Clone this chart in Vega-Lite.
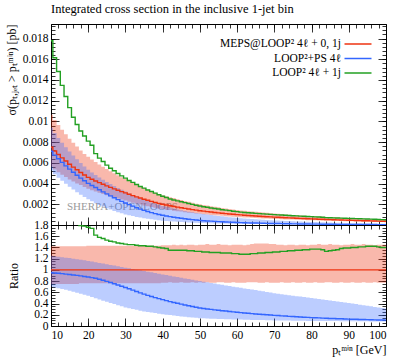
{
"$schema": "https://vega.github.io/schema/vega-lite/v6.json",
"padding": {"left": 4, "top": 2, "right": 4, "bottom": 2},
"bounds": "flush",
"config": {
  "font": "Liberation Serif",
  "view": {"stroke": "#000", "strokeWidth": 1},
  "axis": {"grid": false, "domain": false, "labelOverlap": false, "labelFont": "Liberation Serif", "labelFontSize": 11.5, "labelColor": "#000", "tickColor": "#000", "tickWidth": 0.8, "titleFont": "Liberation Serif", "titleFontSize": 12, "titleFontWeight": "normal", "titleColor": "#000"}
},
"title": {"text": "Integrated cross section in the inclusive 1-jet bin", "anchor": "start", "frame": "group", "fontSize": 12.5, "fontWeight": "normal", "font": "Liberation Serif", "color": "#000", "offset": 8},
"datasets": {"d": [
{"x":10,"r":0.0075,"rl":0.005625,"rh":0.01065,"b":0.007125,"bl":0.00525,"bh":0.009375,"g":0.01778,"qrl":0.75,"qrh":1.42,"qb":0.95,"qbl":0.7,"qbh":1.25,"qg":2.37},
{"x":11,"r":0.00714,"rl":0.005355,"rh":0.01014,"b":0.006747,"bl":0.004898,"bh":0.008868,"g":0.01614,"qrl":0.75,"qrh":1.42,"qb":0.945,"qbl":0.686,"qbh":1.242,"qg":2.26},
{"x":12,"r":0.0068,"rl":0.0051,"rh":0.009656,"b":0.006392,"bl":0.00457,"bh":0.008391,"g":0.01482,"qrl":0.75,"qrh":1.42,"qb":0.94,"qbl":0.672,"qbh":1.234,"qg":2.18},
{"x":13,"r":0.00648,"rl":0.00486,"rh":0.009202,"b":0.006046,"bl":0.004264,"bh":0.007944,"g":0.01348,"qrl":0.75,"qrh":1.42,"qb":0.933,"qbl":0.658,"qbh":1.226,"qg":2.08},
{"x":14,"r":0.00617,"rl":0.004628,"rh":0.008761,"b":0.005707,"bl":0.003973,"bh":0.007515,"g":0.0124,"qrl":0.75,"qrh":1.42,"qb":0.925,"qbl":0.644,"qbh":1.218,"qg":2.01},
{"x":15,"r":0.00587,"rl":0.004403,"rh":0.008335,"b":0.005389,"bl":0.003698,"bh":0.007103,"g":0.01133,"qrl":0.75,"qrh":1.42,"qb":0.918,"qbl":0.63,"qbh":1.21,"qg":1.93},
{"x":16,"r":0.00559,"rl":0.004193,"rh":0.007938,"b":0.005087,"bl":0.003421,"bh":0.006708,"g":0.0104,"qrl":0.75,"qrh":1.42,"qb":0.91,"qbl":0.612,"qbh":1.2,"qg":1.86},
{"x":17,"r":0.00533,"rl":0.003998,"rh":0.007569,"b":0.004808,"bl":0.003166,"bh":0.006343,"g":0.009701,"qrl":0.75,"qrh":1.42,"qb":0.902,"qbl":0.594,"qbh":1.19,"qg":1.82},
{"x":18,"r":0.00507,"rl":0.003853,"rh":0.007199,"b":0.004528,"bl":0.00292,"bh":0.005983,"g":0.009075,"qrl":0.76,"qrh":1.42,"qb":0.893,"qbl":0.576,"qbh":1.18,"qg":1.79},
{"x":19,"r":0.00483,"rl":0.003671,"rh":0.006859,"b":0.004265,"bl":0.002695,"bh":0.005651,"g":0.008597,"qrl":0.76,"qrh":1.42,"qb":0.883,"qbl":0.558,"qbh":1.17,"qg":1.78},
{"x":20,"r":0.0046,"rl":0.003496,"rh":0.006578,"b":0.004016,"bl":0.002484,"bh":0.005336,"g":0.008096,"qrl":0.76,"qrh":1.43,"qb":0.873,"qbl":0.54,"qbh":1.16,"qg":1.76},
{"x":21,"r":0.004422,"rl":0.003361,"rh":0.006323,"b":0.003812,"bl":0.002291,"bh":0.005076,"g":0.007694,"qrl":0.76,"qrh":1.43,"qb":0.862,"qbl":0.518,"qbh":1.148,"qg":1.74},
{"x":22,"r":0.004251,"rl":0.003231,"rh":0.006079,"b":0.003613,"bl":0.002108,"bh":0.004829,"g":0.006887,"qrl":0.76,"qrh":1.43,"qb":0.85,"qbl":0.496,"qbh":1.136,"qg":1.62},
{"x":23,"r":0.004086,"rl":0.003105,"rh":0.005843,"b":0.003404,"bl":0.001937,"bh":0.004593,"g":0.006456,"qrl":0.76,"qrh":1.43,"qb":0.833,"qbl":0.474,"qbh":1.124,"qg":1.58},
{"x":24,"r":0.003928,"rl":0.002985,"rh":0.005617,"b":0.003201,"bl":0.001775,"bh":0.004368,"g":0.006128,"qrl":0.76,"qrh":1.43,"qb":0.815,"qbl":0.452,"qbh":1.112,"qg":1.56},
{"x":25,"r":0.003776,"rl":0.00287,"rh":0.0054,"b":0.003002,"bl":0.001624,"bh":0.004154,"g":0.005777,"qrl":0.76,"qrh":1.43,"qb":0.795,"qbl":0.43,"qbh":1.1,"qg":1.53},
{"x":26,"r":0.00363,"rl":0.002759,"rh":0.005191,"b":0.002813,"bl":0.001488,"bh":0.003949,"g":0.005481,"qrl":0.76,"qrh":1.43,"qb":0.775,"qbl":0.41,"qbh":1.088,"qg":1.51},
{"x":27,"r":0.003489,"rl":0.002652,"rh":0.004989,"b":0.002627,"bl":0.001361,"bh":0.003754,"g":0.005234,"qrl":0.76,"qrh":1.43,"qb":0.753,"qbl":0.39,"qbh":1.076,"qg":1.5},
{"x":28,"r":0.003354,"rl":0.002549,"rh":0.004796,"b":0.002448,"bl":0.001241,"bh":0.003569,"g":0.004964,"qrl":0.76,"qrh":1.43,"qb":0.73,"qbl":0.37,"qbh":1.064,"qg":1.48},
{"x":29,"r":0.003225,"rl":0.002451,"rh":0.004612,"b":0.002283,"bl":0.001129,"bh":0.003393,"g":0.004741,"qrl":0.76,"qrh":1.43,"qb":0.708,"qbl":0.35,"qbh":1.052,"qg":1.47},
{"x":30,"r":0.0031,"rl":0.002356,"rh":0.004433,"b":0.002124,"bl":0.001023,"bh":0.003224,"g":0.004526,"qrl":0.76,"qrh":1.43,"qb":0.685,"qbl":0.33,"qbh":1.04,"qg":1.46},
{"x":31,"r":0.002967,"rl":0.002255,"rh":0.004243,"b":0.001967,"bl":0.000938,"bh":0.00305,"g":0.004302,"qrl":0.76,"qrh":1.43,"qb":0.663,"qbl":0.316,"qbh":1.028,"qg":1.45},
{"x":32,"r":0.00284,"rl":0.002158,"rh":0.004061,"b":0.001818,"bl":0.000858,"bh":0.002885,"g":0.004118,"qrl":0.76,"qrh":1.43,"qb":0.64,"qbl":0.302,"qbh":1.016,"qg":1.45},
{"x":33,"r":0.002718,"rl":0.002066,"rh":0.003887,"b":0.001672,"bl":0.000783,"bh":0.002729,"g":0.003914,"qrl":0.76,"qrh":1.43,"qb":0.615,"qbl":0.288,"qbh":1.004,"qg":1.44},
{"x":34,"r":0.002601,"rl":0.001977,"rh":0.003719,"b":0.001535,"bl":0.000713,"bh":0.00258,"g":0.003719,"qrl":0.76,"qrh":1.43,"qb":0.59,"qbl":0.274,"qbh":0.992,"qg":1.43},
{"x":35,"r":0.00249,"rl":0.001892,"rh":0.003561,"b":0.001414,"bl":0.000647,"bh":0.00244,"g":0.003561,"qrl":0.76,"qrh":1.43,"qb":0.568,"qbl":0.26,"qbh":0.98,"qg":1.43},
{"x":36,"r":0.002383,"rl":0.001811,"rh":0.003408,"b":0.001299,"bl":0.000596,"bh":0.002307,"g":0.003384,"qrl":0.76,"qrh":1.43,"qb":0.545,"qbl":0.25,"qbh":0.968,"qg":1.42},
{"x":37,"r":0.002281,"rl":0.001734,"rh":0.003262,"b":0.001198,"bl":0.000547,"bh":0.002181,"g":0.003239,"qrl":0.76,"qrh":1.43,"qb":0.525,"qbl":0.24,"qbh":0.956,"qg":1.42},
{"x":38,"r":0.002183,"rl":0.001659,"rh":0.003122,"b":0.001102,"bl":0.000502,"bh":0.002061,"g":0.003078,"qrl":0.76,"qrh":1.43,"qb":0.505,"qbl":0.23,"qbh":0.944,"qg":1.41},
{"x":39,"r":0.002089,"rl":0.001588,"rh":0.002987,"b":0.001019,"bl":0.00046,"bh":0.001947,"g":0.002925,"qrl":0.76,"qrh":1.43,"qb":0.488,"qbl":0.22,"qbh":0.932,"qg":1.4},
{"x":40,"r":0.002,"rl":0.00154,"rh":0.00288,"b":0.00094,"bl":0.00042,"bh":0.00184,"g":0.00278,"qrl":0.77,"qrh":1.44,"qb":0.47,"qbl":0.21,"qbh":0.92,"qg":1.39},
{"x":41,"r":0.001927,"rl":0.001484,"rh":0.002775,"b":0.000871,"bl":0.000389,"bh":0.00175,"g":0.002659,"qrl":0.77,"qrh":1.44,"qb":0.452,"qbl":0.202,"qbh":0.908,"qg":1.38},
{"x":42,"r":0.001857,"rl":0.001448,"rh":0.002674,"b":0.000808,"bl":0.00036,"bh":0.001664,"g":0.002507,"qrl":0.78,"qrh":1.44,"qb":0.435,"qbl":0.194,"qbh":0.896,"qg":1.35},
{"x":43,"r":0.001789,"rl":0.001378,"rh":0.002594,"b":0.000751,"bl":0.000333,"bh":0.001581,"g":0.002415,"qrl":0.77,"qrh":1.45,"qb":0.42,"qbl":0.186,"qbh":0.884,"qg":1.35},
{"x":44,"r":0.001724,"rl":0.001327,"rh":0.002483,"b":0.000698,"bl":0.000307,"bh":0.001503,"g":0.002327,"qrl":0.77,"qrh":1.44,"qb":0.405,"qbl":0.178,"qbh":0.872,"qg":1.35},
{"x":45,"r":0.001661,"rl":0.001296,"rh":0.002408,"b":0.000648,"bl":0.000282,"bh":0.001428,"g":0.002242,"qrl":0.78,"qrh":1.45,"qb":0.39,"qbl":0.17,"qbh":0.86,"qg":1.35},
{"x":46,"r":0.001601,"rl":0.001233,"rh":0.002305,"b":0.0006,"bl":0.000263,"bh":0.001358,"g":0.002161,"qrl":0.77,"qrh":1.44,"qb":0.375,"qbl":0.164,"qbh":0.848,"qg":1.35},
{"x":47,"r":0.001543,"rl":0.001188,"rh":0.002237,"b":0.000557,"bl":0.000244,"bh":0.00129,"g":0.002068,"qrl":0.77,"qrh":1.45,"qb":0.361,"qbl":0.158,"qbh":0.836,"qg":1.34},
{"x":48,"r":0.001486,"rl":0.001159,"rh":0.002155,"b":0.000516,"bl":0.000226,"bh":0.001224,"g":0.001991,"qrl":0.78,"qrh":1.45,"qb":0.347,"qbl":0.152,"qbh":0.824,"qg":1.34},
{"x":49,"r":0.001432,"rl":0.001103,"rh":0.002062,"b":0.000477,"bl":0.000209,"bh":0.001163,"g":0.001905,"qrl":0.77,"qrh":1.44,"qb":0.333,"qbl":0.146,"qbh":0.812,"qg":1.33},
{"x":50,"r":0.00138,"rl":0.001076,"rh":0.002001,"b":0.000442,"bl":0.000193,"bh":0.001104,"g":0.001835,"qrl":0.78,"qrh":1.45,"qb":0.32,"qbl":0.14,"qbh":0.8,"qg":1.33},
{"x":51,"r":0.001336,"rl":0.001029,"rh":0.001937,"b":0.000417,"bl":0.000183,"bh":0.001054,"g":0.001764,"qrl":0.77,"qrh":1.45,"qb":0.312,"qbl":0.137,"qbh":0.789,"qg":1.32},
{"x":52,"r":0.001294,"rl":0.001009,"rh":0.001889,"b":0.000393,"bl":0.000173,"bh":0.001007,"g":0.001708,"qrl":0.78,"qrh":1.46,"qb":0.304,"qbl":0.134,"qbh":0.778,"qg":1.32},
{"x":53,"r":0.001253,"rl":0.000965,"rh":0.001817,"b":0.000371,"bl":0.000164,"bh":0.000961,"g":0.001641,"qrl":0.77,"qrh":1.45,"qb":0.296,"qbl":0.131,"qbh":0.767,"qg":1.31},
{"x":54,"r":0.001213,"rl":0.000934,"rh":0.001759,"b":0.000349,"bl":0.000155,"bh":0.000917,"g":0.001589,"qrl":0.77,"qrh":1.45,"qb":0.288,"qbl":0.128,"qbh":0.756,"qg":1.31},
{"x":55,"r":0.001175,"rl":0.000917,"rh":0.001716,"b":0.000329,"bl":0.000147,"bh":0.000875,"g":0.001539,"qrl":0.78,"qrh":1.46,"qb":0.28,"qbl":0.125,"qbh":0.745,"qg":1.31},
{"x":56,"r":0.001137,"rl":0.000887,"rh":0.001649,"b":0.00031,"bl":0.00014,"bh":0.000835,"g":0.001478,"qrl":0.78,"qrh":1.45,"qb":0.273,"qbl":0.123,"qbh":0.734,"qg":1.3},
{"x":57,"r":0.001101,"rl":0.000848,"rh":0.001596,"b":0.000293,"bl":0.000133,"bh":0.000796,"g":0.001431,"qrl":0.77,"qrh":1.45,"qb":0.266,"qbl":0.121,"qbh":0.723,"qg":1.3},
{"x":58,"r":0.001066,"rl":0.000821,"rh":0.001535,"b":0.000276,"bl":0.000127,"bh":0.000759,"g":0.001386,"qrl":0.77,"qrh":1.44,"qb":0.259,"qbl":0.119,"qbh":0.712,"qg":1.3},
{"x":59,"r":0.001033,"rl":0.000806,"rh":0.001498,"b":0.00026,"bl":0.000121,"bh":0.000724,"g":0.001333,"qrl":0.78,"qrh":1.45,"qb":0.252,"qbl":0.117,"qbh":0.701,"qg":1.29},
{"x":60,"r":0.001,"rl":0.00077,"rh":0.00145,"b":0.000245,"bl":0.000115,"bh":0.00069,"g":0.00129,"qrl":0.77,"qrh":1.45,"qb":0.245,"qbl":0.115,"qbh":0.69,"qg":1.29},
{"x":61,"r":0.000973,"rl":0.000749,"rh":0.001411,"b":0.000233,"bl":0.000111,"bh":0.000662,"g":0.001245,"qrl":0.77,"qrh":1.45,"qb":0.239,"qbl":0.114,"qbh":0.68,"qg":1.28},
{"x":62,"r":0.000947,"rl":0.000729,"rh":0.001364,"b":0.000221,"bl":0.000106,"bh":0.000634,"g":0.001212,"qrl":0.77,"qrh":1.44,"qb":0.233,"qbl":0.112,"qbh":0.67,"qg":1.28},
{"x":63,"r":0.000921,"rl":0.000718,"rh":0.001335,"b":0.000209,"bl":0.000102,"bh":0.000608,"g":0.001179,"qrl":0.78,"qrh":1.45,"qb":0.227,"qbl":0.111,"qbh":0.66,"qg":1.28},
{"x":64,"r":0.000896,"rl":0.000699,"rh":0.001308,"b":0.000198,"bl":0.000098,"bh":0.000582,"g":0.001156,"qrl":0.78,"qrh":1.46,"qb":0.221,"qbl":0.109,"qbh":0.65,"qg":1.29},
{"x":65,"r":0.000872,"rl":0.00068,"rh":0.001282,"b":0.000187,"bl":0.000094,"bh":0.000558,"g":0.001125,"qrl":0.78,"qrh":1.47,"qb":0.215,"qbl":0.108,"qbh":0.64,"qg":1.29},
{"x":66,"r":0.000848,"rl":0.000653,"rh":0.001247,"b":0.000178,"bl":0.00009,"bh":0.000533,"g":0.001102,"qrl":0.77,"qrh":1.47,"qb":0.21,"qbl":0.106,"qbh":0.629,"qg":1.3},
{"x":67,"r":0.000825,"rl":0.000635,"rh":0.001213,"b":0.000169,"bl":0.000087,"bh":0.00051,"g":0.001073,"qrl":0.77,"qrh":1.47,"qb":0.205,"qbl":0.105,"qbh":0.618,"qg":1.3},
{"x":68,"r":0.000803,"rl":0.000626,"rh":0.00118,"b":0.000161,"bl":0.000083,"bh":0.000487,"g":0.001052,"qrl":0.78,"qrh":1.47,"qb":0.2,"qbl":0.103,"qbh":0.607,"qg":1.31},
{"x":69,"r":0.000781,"rl":0.000601,"rh":0.00114,"b":0.000152,"bl":0.00008,"bh":0.000465,"g":0.001023,"qrl":0.77,"qrh":1.46,"qb":0.195,"qbl":0.102,"qbh":0.596,"qg":1.31},
{"x":70,"r":0.00076,"rl":0.000585,"rh":0.00111,"b":0.000144,"bl":0.000076,"bh":0.000445,"g":0.001003,"qrl":0.77,"qrh":1.46,"qb":0.19,"qbl":0.1,"qbh":0.585,"qg":1.32},
{"x":71,"r":0.000741,"rl":0.000571,"rh":0.001074,"b":0.000138,"bl":0.000073,"bh":0.000427,"g":0.000978,"qrl":0.77,"qrh":1.45,"qb":0.186,"qbl":0.099,"qbh":0.576,"qg":1.32},
{"x":72,"r":0.000722,"rl":0.000563,"rh":0.001047,"b":0.000131,"bl":0.000071,"bh":0.000409,"g":0.00096,"qrl":0.78,"qrh":1.45,"qb":0.181,"qbl":0.098,"qbh":0.567,"qg":1.33},
{"x":73,"r":0.000704,"rl":0.000542,"rh":0.001014,"b":0.000125,"bl":0.000068,"bh":0.000393,"g":0.000936,"qrl":0.77,"qrh":1.44,"qb":0.177,"qbl":0.097,"qbh":0.558,"qg":1.33},
{"x":74,"r":0.000687,"rl":0.000529,"rh":0.000996,"b":0.000118,"bl":0.000066,"bh":0.000377,"g":0.000921,"qrl":0.77,"qrh":1.45,"qb":0.172,"qbl":0.096,"qbh":0.549,"qg":1.34},
{"x":75,"r":0.00067,"rl":0.000523,"rh":0.000972,"b":0.000113,"bl":0.000064,"bh":0.000362,"g":0.000898,"qrl":0.78,"qrh":1.45,"qb":0.168,"qbl":0.095,"qbh":0.54,"qg":1.34},
{"x":76,"r":0.000653,"rl":0.000503,"rh":0.00094,"b":0.000107,"bl":0.000061,"bh":0.000347,"g":0.000882,"qrl":0.77,"qrh":1.44,"qb":0.164,"qbl":0.094,"qbh":0.532,"qg":1.35},
{"x":77,"r":0.000637,"rl":0.00049,"rh":0.000924,"b":0.000103,"bl":0.000059,"bh":0.000334,"g":0.00086,"qrl":0.77,"qrh":1.45,"qb":0.161,"qbl":0.093,"qbh":0.524,"qg":1.35},
{"x":78,"r":0.000621,"rl":0.000484,"rh":0.0009,"b":0.000097,"bl":0.000057,"bh":0.00032,"g":0.000845,"qrl":0.78,"qrh":1.45,"qb":0.157,"qbl":0.092,"qbh":0.516,"qg":1.36},
{"x":79,"r":0.000605,"rl":0.000466,"rh":0.000871,"b":0.000093,"bl":0.000055,"bh":0.000307,"g":0.000823,"qrl":0.77,"qrh":1.44,"qb":0.154,"qbl":0.091,"qbh":0.508,"qg":1.36},
{"x":80,"r":0.00059,"rl":0.000454,"rh":0.000856,"b":0.0000885,"bl":0.0000531,"bh":0.000295,"g":0.000808,"qrl":0.77,"qrh":1.45,"qb":0.15,"qbl":0.09,"qbh":0.5,"qg":1.37},
{"x":81,"r":0.000575,"rl":0.000449,"rh":0.000834,"b":0.0000845,"bl":0.0000518,"bh":0.000282,"g":0.000788,"qrl":0.78,"qrh":1.45,"qb":0.147,"qbl":0.09,"qbh":0.491,"qg":1.37},
{"x":82,"r":0.000561,"rl":0.000432,"rh":0.000819,"b":0.0000808,"bl":0.0000499,"bh":0.00027,"g":0.000769,"qrl":0.77,"qrh":1.46,"qb":0.144,"qbl":0.089,"qbh":0.482,"qg":1.37},
{"x":83,"r":0.000548,"rl":0.000422,"rh":0.000795,"b":0.0000773,"bl":0.0000488,"bh":0.000259,"g":0.000745,"qrl":0.77,"qrh":1.45,"qb":0.141,"qbl":0.089,"qbh":0.473,"qg":1.36},
{"x":84,"r":0.000534,"rl":0.000417,"rh":0.000774,"b":0.0000737,"bl":0.000047,"bh":0.000248,"g":0.00071,"qrl":0.78,"qrh":1.45,"qb":0.138,"qbl":0.088,"qbh":0.464,"qg":1.33},
{"x":85,"r":0.000521,"rl":0.000406,"rh":0.000761,"b":0.0000703,"bl":0.0000458,"bh":0.000237,"g":0.000698,"qrl":0.78,"qrh":1.46,"qb":0.135,"qbl":0.088,"qbh":0.455,"qg":1.34},
{"x":86,"r":0.000508,"rl":0.000391,"rh":0.000737,"b":0.0000676,"bl":0.0000442,"bh":0.000227,"g":0.000686,"qrl":0.77,"qrh":1.45,"qb":0.133,"qbl":0.087,"qbh":0.446,"qg":1.35},
{"x":87,"r":0.000496,"rl":0.000382,"rh":0.000719,"b":0.0000645,"bl":0.0000432,"bh":0.000217,"g":0.000675,"qrl":0.77,"qrh":1.45,"qb":0.13,"qbl":0.087,"qbh":0.437,"qg":1.36},
{"x":88,"r":0.000483,"rl":0.000377,"rh":0.000696,"b":0.0000618,"bl":0.0000415,"bh":0.000207,"g":0.000667,"qrl":0.78,"qrh":1.44,"qb":0.128,"qbl":0.086,"qbh":0.428,"qg":1.38},
{"x":89,"r":0.000472,"rl":0.000363,"rh":0.000684,"b":0.000059,"bl":0.0000406,"bh":0.000198,"g":0.000656,"qrl":0.77,"qrh":1.45,"qb":0.125,"qbl":0.086,"qbh":0.419,"qg":1.39},
{"x":90,"r":0.00046,"rl":0.000354,"rh":0.000667,"b":0.0000566,"bl":0.0000391,"bh":0.000189,"g":0.000639,"qrl":0.77,"qrh":1.45,"qb":0.123,"qbl":0.085,"qbh":0.41,"qg":1.39},
{"x":91,"r":0.000449,"rl":0.00035,"rh":0.000656,"b":0.0000543,"bl":0.0000382,"bh":0.00018,"g":0.000629,"qrl":0.78,"qrh":1.46,"qb":0.121,"qbl":0.085,"qbh":0.4,"qg":1.4},
{"x":92,"r":0.000438,"rl":0.000337,"rh":0.000635,"b":0.0000521,"bl":0.0000368,"bh":0.000171,"g":0.000613,"qrl":0.77,"qrh":1.45,"qb":0.119,"qbl":0.084,"qbh":0.39,"qg":1.4},
{"x":93,"r":0.000427,"rl":0.000329,"rh":0.000619,"b":0.00005,"bl":0.0000359,"bh":0.000162,"g":0.000602,"qrl":0.77,"qrh":1.45,"qb":0.117,"qbl":0.084,"qbh":0.38,"qg":1.41},
{"x":94,"r":0.000417,"rl":0.000325,"rh":0.000609,"b":0.000048,"bl":0.0000346,"bh":0.000154,"g":0.000588,"qrl":0.78,"qrh":1.46,"qb":0.115,"qbl":0.083,"qbh":0.37,"qg":1.41},
{"x":95,"r":0.000407,"rl":0.000313,"rh":0.00059,"b":0.000046,"bl":0.0000338,"bh":0.000147,"g":0.000578,"qrl":0.77,"qrh":1.45,"qb":0.113,"qbl":0.083,"qbh":0.36,"qg":1.42},
{"x":96,"r":0.000397,"rl":0.000306,"rh":0.000576,"b":0.0000441,"bl":0.0000326,"bh":0.000139,"g":0.000564,"qrl":0.77,"qrh":1.45,"qb":0.111,"qbl":0.082,"qbh":0.35,"qg":1.42},
{"x":97,"r":0.000387,"rl":0.000302,"rh":0.000557,"b":0.0000426,"bl":0.0000317,"bh":0.000132,"g":0.00055,"qrl":0.78,"qrh":1.44,"qb":0.11,"qbl":0.082,"qbh":0.34,"qg":1.42},
{"x":98,"r":0.000378,"rl":0.000291,"rh":0.000548,"b":0.0000408,"bl":0.0000306,"bh":0.000125,"g":0.000533,"qrl":0.77,"qrh":1.45,"qb":0.108,"qbl":0.081,"qbh":0.33,"qg":1.41},
{"x":99,"r":0.000369,"rl":0.000284,"rh":0.000535,"b":0.0000395,"bl":0.0000299,"bh":0.000118,"g":0.000517,"qrl":0.77,"qrh":1.45,"qb":0.107,"qbl":0.081,"qbh":0.32,"qg":1.4},
{"x":100,"r":0.00036,"rl":0.000277,"rh":0.000522,"b":0.0000378,"bl":0.0000288,"bh":0.000112,"g":0.000504,"qrl":0.77,"qrh":1.45,"qb":0.105,"qbl":0.08,"qbh":0.31,"qg":1.4}
]},
"data": {"name": "d"},
"spacing": 0,
"vconcat": [
{
  "width": 335, "height": 201,
  "resolve": {"axis": {"x": "independent", "y": "independent"}},
  "layer": [
    {"data": {"values": [{"label": "SHERPA+OPENLOOPS", "px": 14.3, "py": 0.00174}]},
     "mark": {"type": "text", "align": "left", "baseline": "middle", "fontSize": 11, "color": "#9a9a9a", "font": "Liberation Serif"},
     "encoding": {
       "x": {"field": "px", "type": "quantitative", "scale": {"domain": [10, 100], "nice": false}, "axis": null},
       "y": {"field": "py", "type": "quantitative", "scale": {"domain": [0, 0.0194], "nice": false}, "axis": null},
       "text": {"field": "label"}}},
    {"mark": {"type": "area", "interpolate": "step", "color": "#EE3311", "opacity": 0.35},
     "encoding": {
       "x": {"field": "x", "type": "quantitative", "scale": {"domain": [10, 100], "nice": false},
             "axis": {"orient": "bottom", "values": [10,20,30,40,50,60,70,80,90,100], "tickSize": -8, "labels": false, "title": null}},
       "y": {"field": "rl", "type": "quantitative", "scale": {"domain": [0, 0.0194], "nice": false},
             "axis": {"orient": "left", "values": [0.002,0.004,0.006,0.008,0.01,0.012,0.014,0.016,0.018], "tickSize": -8, "format": "~g", "labelPadding": 11,
                      "title": "σ(pₜ,ⱼₑₜ > pₜᵐⁱⁿ) [pb]", "titleAngle": -90, "titleX": -40, "titleY": 0, "titleAlign": "right", "titleBaseline": "middle"}},
       "y2": {"field": "rh"}}},
    {"mark": {"type": "area", "interpolate": "step", "color": "#3366FF", "opacity": 0.33},
     "encoding": {
       "x": {"field": "x", "type": "quantitative", "scale": {"domain": [10, 100], "nice": false},
             "axis": {"orient": "bottom", "values": [10,12,14,16,18,20,22,24,26,28,30,32,34,36,38,40,42,44,46,48,50,52,54,56,58,60,62,64,66,68,70,72,74,76,78,80,82,84,86,88,90,92,94,96,98,100], "tickSize": -4, "labels": false, "title": null}},
       "y": {"field": "bl", "type": "quantitative", "scale": {"domain": [0, 0.0194], "nice": false},
             "axis": {"orient": "left", "values": [0.0004,0.0008,0.0012,0.0016,0.002,0.0024,0.0028,0.0032,0.0036,0.004,0.0044,0.0048,0.0052,0.0056,0.006,0.0064,0.0068,0.0072,0.0076,0.008,0.0084,0.0088,0.0092,0.0096,0.01,0.0104,0.0108,0.0112,0.0116,0.012,0.0124,0.0128,0.0132,0.0136,0.014,0.0144,0.0148,0.0152,0.0156,0.016,0.0164,0.0168,0.0172,0.0176,0.018,0.0184,0.0188,0.0192], "tickSize": -4, "labels": false, "title": null}},
       "y2": {"field": "bh"}}},
    {"mark": {"type": "line", "interpolate": "step", "strokeWidth": 1.4},
     "encoding": {
       "x": {"field": "x", "type": "quantitative", "scale": {"domain": [10, 100], "nice": false},
             "axis": {"orient": "top", "values": [10,20,30,40,50,60,70,80,90,100], "tickSize": -8, "labels": false, "title": null}},
       "y": {"field": "r", "type": "quantitative", "scale": {"domain": [0, 0.0194], "nice": false},
             "axis": {"orient": "right", "values": [0.002,0.004,0.006,0.008,0.01,0.012,0.014,0.016,0.018], "tickSize": -8, "labels": false, "title": null}},
       "color": {"datum": "MEPS@LOOP² 4ℓ + 0, 1j", "type": "nominal",
                 "scale": {"domain": ["MEPS@LOOP² 4ℓ + 0, 1j", "LOOP²+PS 4ℓ", "LOOP² 4ℓ + 1j"], "range": ["#EE3311", "#3366FF", "#22A022"]},
                 "legend": {"orient": "none", "legendX": 301, "legendY": 14, "title": null, "padding": 0, "symbolType": "M-2.7,0H2.7", "symbolSize": 100, "symbolStrokeWidth": 1.5,
                            "labelAlign": "right", "labelOffset": -23, "labelFontSize": 11.5, "labelFont": "Liberation Serif", "labelColor": "#000", "rowPadding": 2.5}}}},
    {"mark": {"type": "line", "interpolate": "step", "strokeWidth": 1.4},
     "encoding": {
       "x": {"field": "x", "type": "quantitative", "scale": {"domain": [10, 100], "nice": false},
             "axis": {"orient": "top", "values": [10,12,14,16,18,20,22,24,26,28,30,32,34,36,38,40,42,44,46,48,50,52,54,56,58,60,62,64,66,68,70,72,74,76,78,80,82,84,86,88,90,92,94,96,98,100], "tickSize": -4, "labels": false, "title": null}},
       "y": {"field": "b", "type": "quantitative", "scale": {"domain": [0, 0.0194], "nice": false},
             "axis": {"orient": "right", "values": [0.0004,0.0008,0.0012,0.0016,0.002,0.0024,0.0028,0.0032,0.0036,0.004,0.0044,0.0048,0.0052,0.0056,0.006,0.0064,0.0068,0.0072,0.0076,0.008,0.0084,0.0088,0.0092,0.0096,0.01,0.0104,0.0108,0.0112,0.0116,0.012,0.0124,0.0128,0.0132,0.0136,0.014,0.0144,0.0148,0.0152,0.0156,0.016,0.0164,0.0168,0.0172,0.0176,0.018,0.0184,0.0188,0.0192], "tickSize": -4, "labels": false, "title": null}},
       "color": {"datum": "LOOP²+PS 4ℓ", "type": "nominal"}}},
    {"mark": {"type": "line", "interpolate": "step", "strokeWidth": 1.4},
     "encoding": {
       "x": {"field": "x", "type": "quantitative", "scale": {"domain": [10, 100], "nice": false}, "axis": null},
       "y": {"field": "g", "type": "quantitative", "scale": {"domain": [0, 0.0194], "nice": false}, "axis": null},
       "color": {"datum": "LOOP² 4ℓ + 1j", "type": "nominal"}}}
  ]
},
{
  "width": 335, "height": 101,
  "resolve": {"axis": {"x": "independent", "y": "independent"}},
  "layer": [
    {"mark": {"type": "area", "interpolate": "step", "color": "#EE3311", "opacity": 0.35},
     "encoding": {
       "x": {"field": "x", "type": "quantitative", "scale": {"domain": [10, 100], "nice": false},
             "axis": {"orient": "bottom", "values": [10,20,30,40,50,60,70,80,90,100], "tickSize": -8, "labelPadding": 11,
                      "title": "pₜᵐⁱⁿ [GeV]", "titleX": 335, "titleY": 23, "titleAlign": "right", "titleBaseline": "middle"}},
       "y": {"field": "qrl", "type": "quantitative", "scale": {"domain": [0, 1.8], "nice": false},
             "axis": {"orient": "left", "values": [0,0.2,0.4,0.6,0.8,1,1.2,1.4,1.6,1.8], "tickSize": -8, "format": "~g", "labelPadding": 11,
                      "title": "Ratio", "titleAngle": -90, "titleX": -38, "titleY": 50.5, "titleAlign": "center", "titleBaseline": "middle"}},
       "y2": {"field": "qrh"}}},
    {"mark": {"type": "area", "interpolate": "step", "color": "#3366FF", "opacity": 0.33},
     "encoding": {
       "x": {"field": "x", "type": "quantitative", "scale": {"domain": [10, 100], "nice": false},
             "axis": {"orient": "bottom", "values": [10,12,14,16,18,20,22,24,26,28,30,32,34,36,38,40,42,44,46,48,50,52,54,56,58,60,62,64,66,68,70,72,74,76,78,80,82,84,86,88,90,92,94,96,98,100], "tickSize": -4, "labels": false, "title": null}},
       "y": {"field": "qbl", "type": "quantitative", "scale": {"domain": [0, 1.8], "nice": false},
             "axis": {"orient": "left", "values": [0.05,0.1,0.15,0.2,0.25,0.3,0.35,0.4,0.45,0.5,0.55,0.6,0.65,0.7,0.75,0.8,0.85,0.9,0.95,1,1.05,1.1,1.15,1.2,1.25,1.3,1.35,1.4,1.45,1.5,1.55,1.6,1.65,1.7,1.75], "tickSize": -4, "labels": false, "title": null}},
       "y2": {"field": "qbh"}}},
    {"data": {"values": [{"ratio": 1}]},
     "mark": {"type": "rule", "color": "#EE3311", "strokeWidth": 1.4},
     "encoding": {
       "y": {"field": "ratio", "type": "quantitative", "scale": {"domain": [0, 1.8], "nice": false}, "axis": null}}},
    {"mark": {"type": "line", "interpolate": "step", "strokeWidth": 1.4, "color": "#3366FF"},
     "encoding": {
       "x": {"field": "x", "type": "quantitative", "scale": {"domain": [10, 100], "nice": false},
             "axis": {"orient": "top", "values": [10,20,30,40,50,60,70,80,90,100], "tickSize": -8, "labels": false, "title": null}},
       "y": {"field": "qb", "type": "quantitative", "scale": {"domain": [0, 1.8], "nice": false},
             "axis": {"orient": "right", "values": [0,0.2,0.4,0.6,0.8,1,1.2,1.4,1.6,1.8], "tickSize": -8, "labels": false, "title": null}}}},
    {"mark": {"type": "line", "interpolate": "step", "strokeWidth": 1.4, "color": "#22A022", "clip": true},
     "encoding": {
       "x": {"field": "x", "type": "quantitative", "scale": {"domain": [10, 100], "nice": false},
             "axis": {"orient": "top", "values": [10,12,14,16,18,20,22,24,26,28,30,32,34,36,38,40,42,44,46,48,50,52,54,56,58,60,62,64,66,68,70,72,74,76,78,80,82,84,86,88,90,92,94,96,98,100], "tickSize": -4, "labels": false, "title": null}},
       "y": {"field": "qg", "type": "quantitative", "scale": {"domain": [0, 1.8], "nice": false},
             "axis": {"orient": "right", "values": [0.05,0.1,0.15,0.2,0.25,0.3,0.35,0.4,0.45,0.5,0.55,0.6,0.65,0.7,0.75,0.8,0.85,0.9,0.95,1,1.05,1.1,1.15,1.2,1.25,1.3,1.35,1.4,1.45,1.5,1.55,1.6,1.65,1.7,1.75], "tickSize": -4, "labels": false, "title": null}}}}
  ]
}
]
}
